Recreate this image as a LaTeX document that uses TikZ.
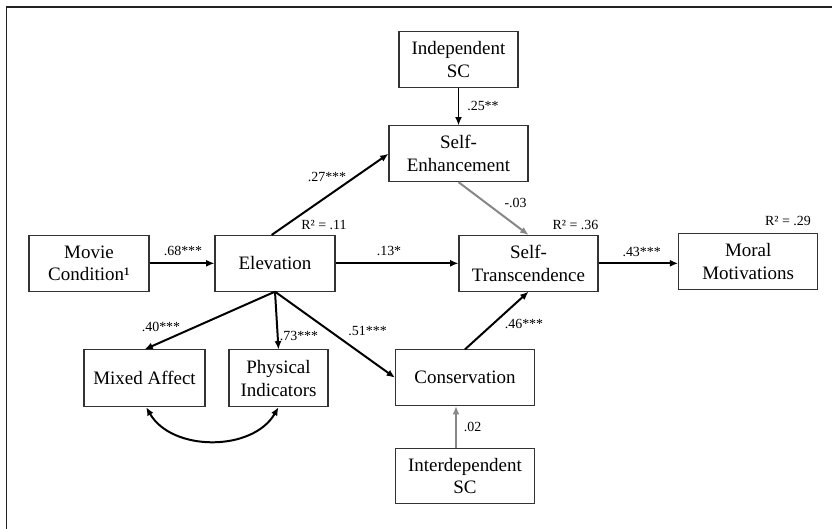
\documentclass[tikz,border=0pt]{standalone}
\usepackage{fontspec}
\setmainfont{Liberation Serif}
\usepackage{tikz}
\usetikzlibrary{arrows.meta,calc}
\definecolor{framegray}{RGB}{34,34,34}
\definecolor{pathgray}{RGB}{135,135,135}

\begin{document}
\begin{tikzpicture}[
 x=0.03cm,y=-0.03cm,
 every node/.style={font=\fontsize{16.2pt}{19.6pt}\selectfont},
 box/.style={draw=black!80,line width=0.9pt,minimum width=3.6cm,minimum height=1.67cm,inner sep=1pt,align=center},
 wide/.style={box,minimum width=4.17cm},
 lab/.style={font=\fontsize{11.9pt}{13pt}\selectfont,inner sep=0pt},
 arr/.style={-{Latex[length=2.5mm,width=2.1mm]},line width=1.7pt,black},
 garr/.style={-{Latex[length=2.5mm,width=2.1mm]},line width=1.7pt,pathgray}
]
\useasboundingbox (0,0) rectangle (832,529);
\draw[line width=0.06cm,framegray] (6.5,6.7)--(832,6.7);
\draw[line width=0.05cm,framegray] (6.5,5.8)--(6.5,529);
\node[box,minimum width=3.57cm] (indep) at (458.5,59.4) {Independent\\SC};
\node[wide] (selfenh) at (458.5,153.8) {Self-\\Enhancement};
\node[box] (movie) at (89,263.3) {Movie\\Condition¹};
\node[box] (elev) at (275,263.3) {Elevation};
\node[wide] (selftrans) at (528.5,263.3) {Self-\\Transcendence};
\node[wide] (moral) at (748.2,261.3) {Moral\\Motivations};
\node[box,minimum width=3.63cm,minimum height=1.7cm] (mixed) at (144.5,378.3) {Mixed Affect};
\node[box,minimum width=2.97cm,minimum height=1.7cm] (phys) at (278.5,378.3) {Physical\\Indicators};
\node[wide] (conserv) at (465,377.7) {Conservation};
\node[wide,minimum width=4.19cm] (interdep) at (465,476) {Interdependent\\SC};
\node[lab] (r11) at (324,225) {R² = .11};
\node[lab] (r36) at (575.5,224.7) {R² = .36};
\node[lab] (r29) at (788,220.7) {R² = .29};
\node[lab] (p25) at (483,106) {.25**};
\node[lab] (p27) at (327,176.5) {.27***};
\node[lab] (p03) at (515.6,203.4) {-.03};
\node[lab] (p68) at (183,251) {.68***};
\node[lab] (p13) at (389,250.7) {.13*};
\node[lab] (p43) at (641.7,251.7) {.43***};
\node[lab] (p40) at (161,326.7) {.40***};
\node[lab] (p73) at (299,336) {.73***};
\node[lab] (p51) at (367.6,330.6) {.51***};
\node[lab] (p46) at (524,324) {.46***};
\node[lab] (p02) at (472.7,427.3) {.02};
\draw[arr] (indep)--(selfenh);\draw[arr] (movie)--(elev);\draw[arr] (elev)--(selftrans);
\draw[arr] (selftrans.east)--(selftrans.east-|moral.west);
\draw[arr] ([xshift=-0.1cm]elev.north)--(selfenh.west);
\draw[garr] (selfenh.south)--(selftrans.north);
\draw[arr] (elev.south)--(mixed.north);\draw[arr] (elev.south)--(phys.north);
\draw[arr] (elev.south)--(conserv.west);\draw[arr] (conserv.north)--(selftrans.south);
\draw[garr] ([xshift=-0.27cm]interdep.north)--([xshift=-0.27cm]conserv.south);
\draw[{Latex[length=2.5mm,width=2.1mm]}-{Latex[length=2.5mm,width=2.1mm]},line width=1.7pt] ([xshift=0.05cm]mixed.south) to[out=-60,in=-120] (phys.south);
\end{tikzpicture}
\end{document}
